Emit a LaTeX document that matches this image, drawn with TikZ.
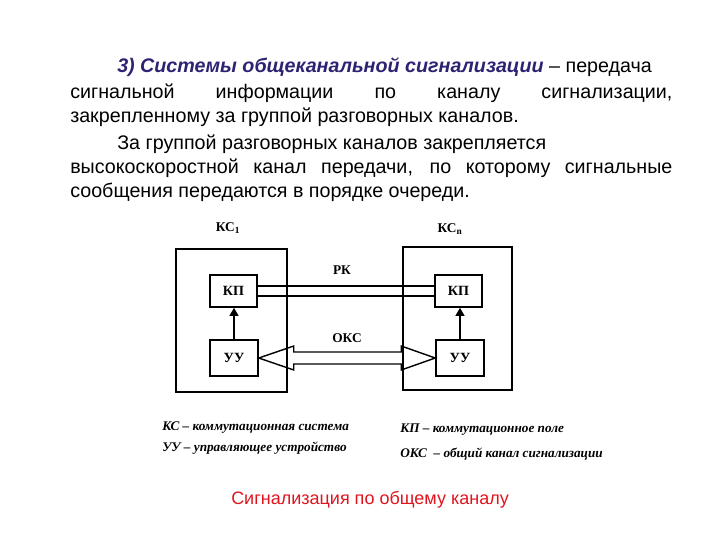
\documentclass[tikz,border=0pt]{standalone}
\usepackage{fontspec}
\setmainfont{Liberation Serif}
\newfontfamily\arialfont{Liberation Sans}
\usetikzlibrary{arrows.meta,calc}
\definecolor{headblue}{RGB}{45,35,115}
\definecolor{capred}{RGB}{225,20,30}
\tikzset{
  txt/.style={anchor=base west,inner sep=0pt,font=\arialfont\fontsize{14}{16}\selectfont},
  station/.style={draw,line width=1.4pt,inner sep=0pt,minimum height=3.575cm},
  unit/.style={draw,line width=1.1pt,inner sep=0pt,minimum width=1.175cm,minimum height=0.8cm,font=\fontsize{10}{12}\selectfont\bfseries},
  lbl/.style={inner sep=0pt,font=\fontsize{9.5}{11}\selectfont\bfseries},
  legend/.style={anchor=base west,inner sep=0pt,font=\fontsize{9.4}{11}\selectfont\bfseries\itshape},
  rk/.style={line width=2pt},
  okc/.style={line width=1pt,line join=miter},
  ctl/.style={line width=1pt,-{Triangle[length=2mm,width=2.2mm]}},
}

\begin{document}
\begin{tikzpicture}[x=0.025cm,y=-0.025cm]
  \useasboundingbox (0,0) rectangle (720,540);
  % text above the scheme
  \node[txt] (l1) at (117,72) {\textcolor{headblue}{\bfseries\itshape 3) Системы общеканальной сигнализации} – передача};
  \node[txt] (l2) at (70,98) {\makebox[15.05cm][s]{сигнальной информации по каналу сигнализации,}};
  \node[txt] (l3) at (70,122) {закрепленному за группой разговорных каналов.};
  \node[txt] (l4) at (117,149) {За группой разговорных каналов закрепляется};
  \node[txt] (l5) at (70,173) {\makebox[15.05cm][s]{высокоскоростной канал передачи, по которому сигнальные}};
  \node[txt] (l6) at (70,197) {сообщения передаются в порядке очереди.};
  % stations
  \node[station,minimum width=2.775cm] (ks1) at (231.5,320.5) {};
  \node[station,minimum width=2.725cm] (ksn) at (457.5,318.5) {};
  \node[lbl] (ks1lab) at (228,228) {КС\textsubscript{1}};
  \node[lbl] (ksnlab) at (450,229) {КС\textsubscript{n}};
  \node[unit] (kp1) at (233.5,291) {КП};
  \node[unit] (kp2) at (458.5,291) {КП};
  \node[unit,minimum width=1.2cm,minimum height=0.9cm] (uu1) at (234,358) {УУ};
  \node[unit,minimum width=1.2cm,minimum height=0.9cm] (uu2) at (460,358) {УУ};
  \draw[ctl] (uu1.north) -- (uu1.north |- kp1.south);
  \draw[ctl] (uu2.north) -- (uu2.north |- kp2.south);
  % speech channels
  \node[lbl] (rklab) at (342,270) {РК};
  \draw[rk] ($(kp1.east)+(0,-5)$) -- ($(kp2.west)+(0,-5)$);
  \draw[rk] ($(kp1.east)+(0,5)$) -- ($(kp2.west)+(0,5)$);
  % common signalling channel
  \node[lbl] (okclab) at (347,338) {ОКС};
  \draw[okc] (uu1.east) -- ++(35,-12) -- ++(0,6) -- ($(uu2.west)+(-34,-6)$) -- ++(0,-6)
     -- (uu2.west) -- ++(-34,12) -- ++(0,-6) -- ($(uu1.east)+(35,6)$) -- ++(0,6) -- cycle;
  % legend
  \node[legend] (lg1) at (162,430) {КС – коммутационная система};
  \node[legend] (lg2) at (162,451) {УУ – управляющее устройство};
  \node[legend] (lg3) at (400,432) {КП – коммутационное поле};
  \node[legend] (lg4) at (400,457) {ОКС \ – общий канал сигнализации};
  \node[inner sep=0pt,font=\arialfont\fontsize{12.8}{15}\selectfont,text=capred] (cap) at (370,500) {Сигнализация по общему каналу};
\end{tikzpicture}
\end{document}
